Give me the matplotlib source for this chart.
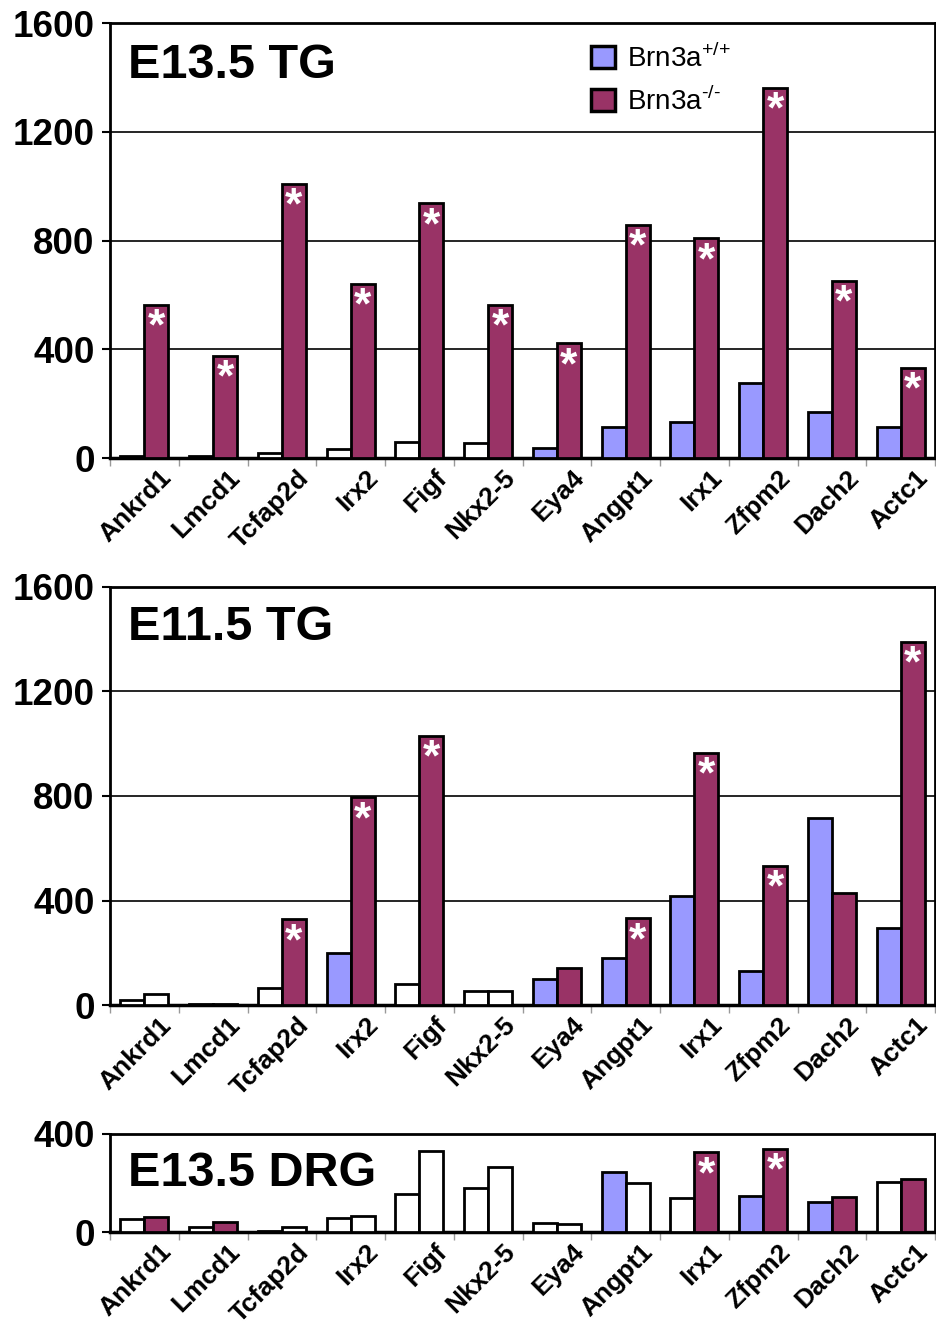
import matplotlib
matplotlib.use("Agg")
import numpy as np
import matplotlib.pyplot as plt
import matplotlib.transforms as mtransforms
from matplotlib.patches import Patch

plt.rcParams['font.family'] = ['Liberation Sans', 'DejaVu Sans']
plt.rcParams['mathtext.fontset'] = 'custom'
plt.rcParams['mathtext.rm'] = 'Liberation Sans'

genes = ["Ankrd1", "Lmcd1", "Tcfap2d", "Irx2", "Figf", "Nkx2-5",
         "Eya4", "Angpt1", "Irx1", "Zfpm2", "Dach2", "Actc1"]

# E13.5 trigeminal ganglion
tg135_wt = [7, 6, 17, 32, 60, 55, 38, 115, 131, 277, 168, 115]
tg135_ko = [563, 375, 1009, 640, 937, 563, 422, 857, 808, 1362, 651, 332]
tg135_wt_on = [0, 0, 0, 0, 0, 0, 1, 1, 1, 1, 1, 1]
tg135_ko_on = [1, 1, 1, 1, 1, 1, 1, 1, 1, 1, 1, 1]
tg135_sig = [1, 1, 1, 1, 1, 1, 1, 1, 1, 1, 1, 1]

# E11.5 trigeminal ganglion
tg115_wt = [20, 4, 65, 199, 80, 56, 99, 182, 419, 131, 714, 294]
tg115_ko = [43, 4, 329, 795, 1029, 56, 144, 332, 964, 532, 430, 1389]
tg115_wt_on = [0, 0, 0, 1, 0, 0, 1, 1, 1, 1, 1, 1]
tg115_ko_on = [0, 0, 1, 1, 1, 0, 1, 1, 1, 1, 1, 1]
tg115_sig = [0, 0, 1, 1, 1, 0, 0, 1, 1, 1, 0, 1]

# E13.5 dorsal root ganglion
drg_wt = [53, 20, 7, 57, 155, 179, 39, 247, 138, 149, 125, 206]
drg_ko = [61, 41, 20, 66, 332, 264, 33, 202, 325, 339, 145, 217]
drg_wt_on = [0, 0, 0, 0, 0, 0, 0, 1, 0, 1, 1, 0]
drg_ko_on = [1, 1, 0, 0, 0, 0, 0, 0, 1, 1, 1, 1]
drg_sig = [0, 0, 0, 0, 0, 0, 0, 0, 1, 1, 0, 0]

BLUE = "#9999FF"
PURPLE = "#993366"


def panel(fig, ax, title, wt, ko, wt_on, ko_on, sig, ymax, yticks):
    x = np.arange(len(genes))
    w = 0.35
    wt_col = [BLUE if p else "white" for p in wt_on]
    ko_col = [PURPLE if p else "white" for p in ko_on]
    ax.bar(x - w / 2, wt, w, color=wt_col, edgecolor="black", linewidth=2, zorder=3)
    ax.bar(x + w / 2, ko, w, color=ko_col, edgecolor="black", linewidth=2, zorder=3)
    for xi, v, s in zip(x, ko, sig):
        if s:
            ax.annotate("*", (xi + w / 2, v), xytext=(0, -2), textcoords="offset points",
                        ha="center", va="top", color="white", fontsize=32,
                        fontweight="bold", zorder=4)
    ax.set_xlim(-0.5, len(genes) - 0.5)
    ax.set_ylim(0, ymax)
    ax.set_yticks(yticks)
    ax.set_yticklabels([str(t) for t in yticks], fontsize=26.5, fontweight="bold")
    ax.yaxis.grid(True, color="black", linewidth=1.2, zorder=0)
    ax.set_axisbelow(True)
    ax.tick_params(axis="y", length=6, width=1.5, pad=5)
    # category ticks sit on the group boundaries, labels in between
    ax.set_xticks(np.arange(len(genes) + 1) - 0.5)
    ax.set_xticklabels([])
    ax.tick_params(axis="x", which="major", length=6, width=1, color="#999999")
    ax.set_xticks(x, minor=True)
    ax.set_xticklabels(genes, minor=True, rotation=45, ha="right",
                       rotation_mode="anchor", fontsize=19, fontweight="bold")
    ax.tick_params(axis="x", which="minor", length=0, pad=4)
    shift = mtransforms.ScaledTranslation(0.15, -0.02, fig.dpi_scale_trans)
    for lab in ax.get_xticklabels(minor=True):
        lab.set_transform(lab.get_transform() + shift)
    for sp in ax.spines.values():
        sp.set_linewidth(2)
    ax.spines["bottom"].set_linewidth(2.5)
    ax.text(0.022, 0.955 if ymax > 1000 else 0.83, title, transform=ax.transAxes,
            ha="left", va="top", fontsize=35, fontweight="bold")


fig = plt.figure(figsize=(9.37, 13.25), dpi=100)
ax1 = fig.add_axes([0.1174, 0.6543, 0.8805, 0.3283])
ax2 = fig.add_axes([0.1174, 0.2413, 0.8805, 0.3160])
ax3 = fig.add_axes([0.1174, 0.0700, 0.8805, 0.0742])

panel(fig, ax1, "E13.5 TG", tg135_wt, tg135_ko, tg135_wt_on, tg135_ko_on, tg135_sig,
      1600, [0, 400, 800, 1200, 1600])
panel(fig, ax2, "E11.5 TG", tg115_wt, tg115_ko, tg115_wt_on, tg115_ko_on, tg115_sig,
      1600, [0, 400, 800, 1200, 1600])
panel(fig, ax3, "E13.5 DRG", drg_wt, drg_ko, drg_wt_on, drg_ko_on, drg_sig,
      400, [0, 400])
ax3.yaxis.grid(False)

handles = [Patch(facecolor=BLUE, edgecolor="black", linewidth=2.5),
           Patch(facecolor=PURPLE, edgecolor="black", linewidth=2.5)]
ax1.legend(handles, [r"Brn3a$^{\text{+/+}}$", r"Brn3a$^{\text{-/-}}$"],
           loc="upper left", bbox_to_anchor=(0.553, 1.01), frameon=False,
           fontsize=20, handlelength=0.85, handleheight=0.85, handletextpad=0.45,
           labelspacing=0.5)

fig.savefig("out.png", dpi=100)
